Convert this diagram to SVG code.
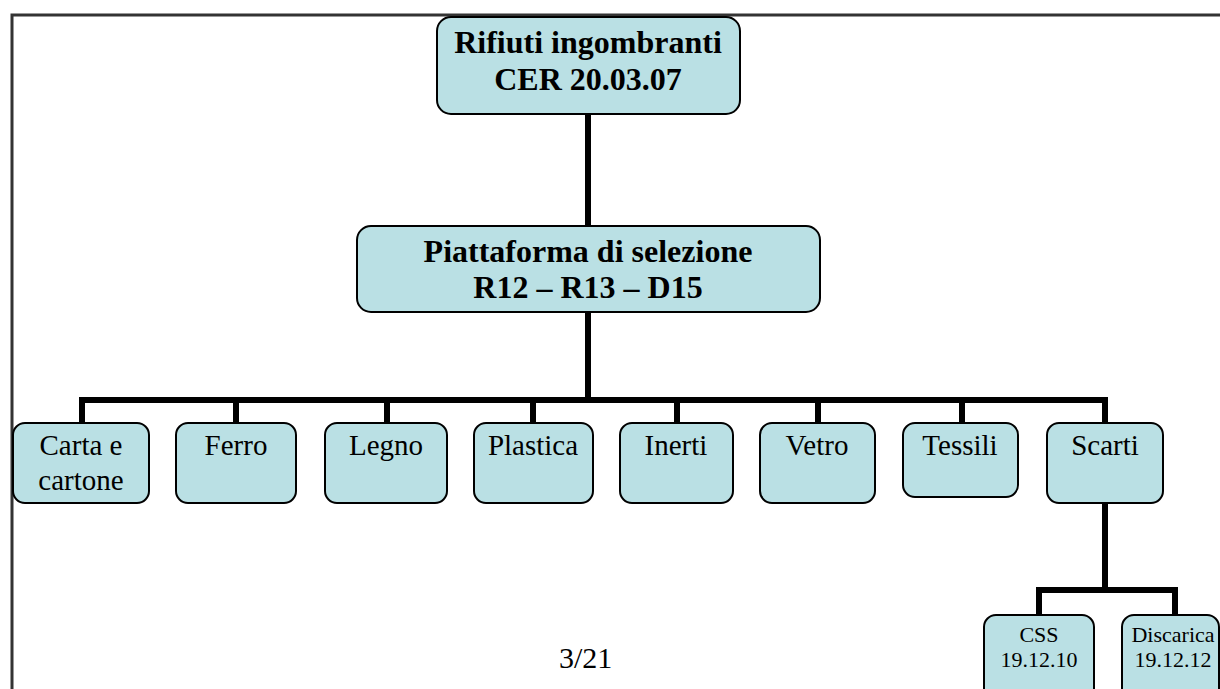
<svg xmlns="http://www.w3.org/2000/svg" width="1220" height="689" viewBox="0 0 1220 689">
  <style>
    .box { fill: #bae0e4; stroke: #000; stroke-width: 2; }
    .wire { fill: none; stroke: #000; stroke-width: 6; stroke-linejoin: miter; }
    .head { font-family: "Liberation Serif", "Times New Roman", serif; font-weight: bold; font-size: 32px; fill: #000; text-anchor: middle; }
    .leaf { font-family: "Liberation Serif", "Times New Roman", serif; font-size: 29px; fill: #000; text-anchor: middle; }
    .small { font-family: "Liberation Serif", "Times New Roman", serif; font-size: 22px; fill: #000; text-anchor: middle; }
    .page { font-family: "Liberation Serif", "Times New Roman", serif; font-size: 30px; fill: #000; }
  </style>

  <rect width="1220" height="689" fill="#fff"/>

  <!-- page frame -->
  <path d="M12,689 V15 H1220" fill="none" stroke="#333" stroke-width="3"/>

  <!-- connectors -->
  <g id="connectors">
    <path class="wire" d="M588,114 V226"/>
    <path class="wire" d="M588,312 V400"/>
    <path class="wire" d="M82,423 V400 H1105 V423"/>
    <path class="wire" d="M236,400 V423"/>
    <path class="wire" d="M387,400 V423"/>
    <path class="wire" d="M533,400 V423"/>
    <path class="wire" d="M677,400 V423"/>
    <path class="wire" d="M818,400 V423"/>
    <path class="wire" d="M962,400 V423"/>
    <path class="wire" d="M1105,503 V590"/>
    <path class="wire" d="M1039,615 V590 H1175 V615"/>
  </g>

  <g id="rifiuti">
    <rect class="box" x="437" y="17" width="303" height="97" rx="14"/>
    <text class="head" x="588" y="53">Rifiuti ingombranti</text>
    <text class="head" x="588" y="90">CER 20.03.07</text>
  </g>

  <g id="piattaforma">
    <rect class="box" x="357" y="226" width="463" height="86" rx="14"/>
    <text class="head" x="588" y="262">Piattaforma di selezione</text>
    <text class="head" x="588" y="298">R12 – R13 – D15</text>
  </g>

  <g id="carta">
    <rect class="box" x="13" y="423" width="136" height="80" rx="12"/>
    <text class="leaf" x="81" y="455">Carta e</text>
    <text class="leaf" x="81" y="490">cartone</text>
  </g>

  <g id="ferro">
    <rect class="box" x="176" y="423" width="120" height="80" rx="12"/>
    <text class="leaf" x="236" y="455">Ferro</text>
  </g>

  <g id="legno">
    <rect class="box" x="325" y="423" width="122" height="80" rx="12"/>
    <text class="leaf" x="386" y="455">Legno</text>
  </g>

  <g id="plastica">
    <rect class="box" x="474" y="423" width="119" height="80" rx="12"/>
    <text class="leaf" x="533" y="455">Plastica</text>
  </g>

  <g id="inerti">
    <rect class="box" x="620" y="423" width="113" height="80" rx="12"/>
    <text class="leaf" x="676" y="455">Inerti</text>
  </g>

  <g id="vetro">
    <rect class="box" x="760" y="423" width="115" height="80" rx="12"/>
    <text class="leaf" x="817" y="455">Vetro</text>
  </g>

  <g id="tessili">
    <rect class="box" x="903" y="423" width="115" height="74" rx="12"/>
    <text class="leaf" x="960" y="455">Tessili</text>
  </g>

  <g id="scarti">
    <rect class="box" x="1047" y="423" width="116" height="80" rx="12"/>
    <text class="leaf" x="1105" y="455">Scarti</text>
  </g>

  <g id="css">
    <rect class="box" x="984" y="615" width="110" height="90" rx="12"/>
    <text class="small" x="1039" y="642">CSS</text>
    <text class="small" x="1039" y="667">19.12.10</text>
  </g>

  <g id="discarica">
    <rect class="box" x="1122" y="615" width="97" height="90" rx="12"/>
    <text class="small" x="1173" y="642">Discarica</text>
    <text class="small" x="1173" y="667">19.12.12</text>
  </g>

  <text class="page" x="559" y="668">3/21</text>
</svg>
